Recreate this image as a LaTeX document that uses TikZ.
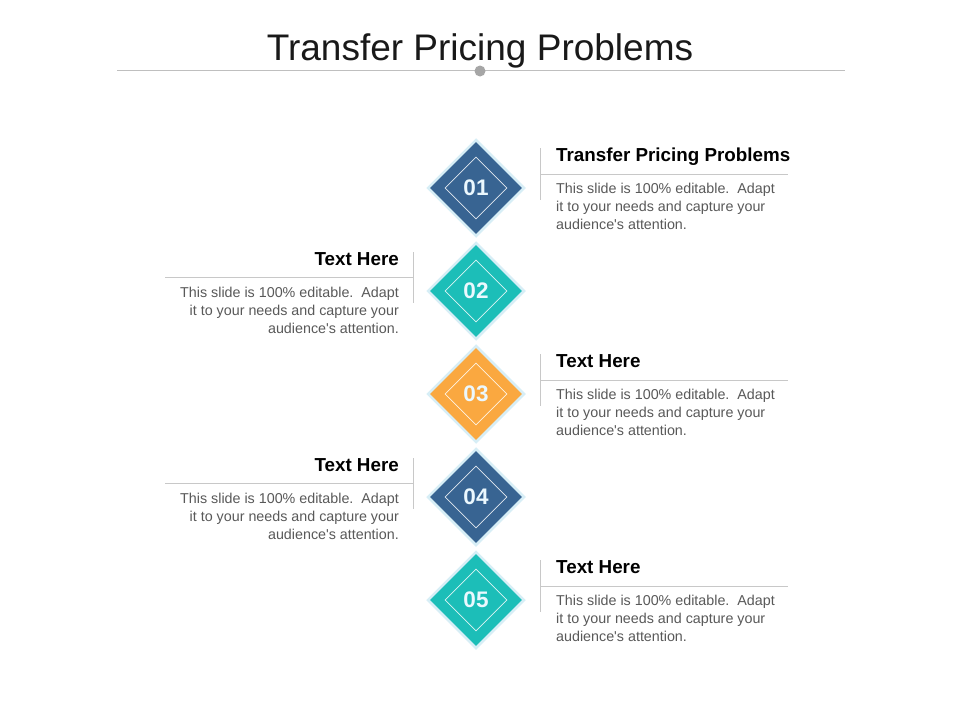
\documentclass[tikz,border=0pt]{standalone}
\usepackage{fontspec}
\setmainfont{Liberation Sans}
\usetikzlibrary{shapes.geometric}
\definecolor{cblue}{RGB}{56,100,146}
\definecolor{cteal}{RGB}{28,190,184}
\definecolor{corange}{RGB}{250,168,64}
\definecolor{glow}{RGB}{215,238,246}
\definecolor{rulegray}{RGB}{200,200,200}
\definecolor{bodygray}{RGB}{89,89,89}
\definecolor{titlegray}{RGB}{191,191,191}
\definecolor{dotgray}{RGB}{166,166,166}
\tikzset{
  outerdia/.style={diamond, aspect=1, inner sep=0pt, minimum width=97pt, minimum height=97pt, fill=#1, draw=glow, line width=2.5pt},
  innerdia/.style={diamond, aspect=1, inner sep=0pt, minimum width=62pt, minimum height=62pt, draw=white!85!#1, line width=0.7pt},
  numtext/.style={font=\fontsize{22.5}{26}\selectfont\bfseries, text=white!92!cyan, inner sep=0pt},
  headtext/.style={font=\fontsize{18.8}{22}\selectfont\bfseries, text=black, inner sep=0pt},
  bodytext/.style={font=\fontsize{14.3}{18}\selectfont, text=bodygray, inner sep=0pt},
  sepline/.style={draw=rulegray, line width=0.8pt}
}
\newcommand{\bodycopy}{This slide is 100\% editable.\ \ Adapt\\it to your needs and capture your\\audience\textquotesingle s attention.}
\begin{document}
\begin{tikzpicture}[x=1pt,y=-1pt]
\useasboundingbox (0,0) rectangle (960,720);
\fill[white] (0,0) rectangle (960,720);
% title
\node[font=\fontsize{37}{42}\selectfont, text=black!90, inner sep=0pt, anchor=base] (title) at (480,60) {Transfer Pricing Problems};
\coordinate (tl) at (117,70);
\coordinate (tr) at (845,70);
\draw[draw=titlegray, line width=0.8pt] (tl) -- (tr);
\fill[dotgray] (480,71) circle (5.5pt);
% diamonds
\foreach \i/\cy/\col in {1/188/cblue, 2/291/cteal, 3/394/corange, 4/497/cblue, 5/600/cteal} {
  \node[outerdia=\col] (d\i) at (476,\cy) {};
  \node[innerdia=\col] (i\i) at (476,\cy) {};
  \node[numtext] (n\i) at (476,\cy) {0\i};
}
% right blocks
\foreach \i/\cy/\head in {1/188/{Transfer Pricing Problems}, 3/394/{Text Here}, 5/600/{Text Here}} {
  \coordinate (va\i) at (540,\cy-40);
  \coordinate (vb\i) at (540,\cy+12);
  \coordinate (ha\i) at (540,\cy-14);
  \coordinate (hb\i) at (788,\cy-14);
  \draw[sepline] (va\i) -- (vb\i);
  \draw[sepline] (ha\i) -- (hb\i);
  \node[headtext, anchor=base west] (h\i) at (556,\cy-26.5) {\head};
  \node[bodytext, anchor=north west, align=left] (b\i) at (556,\cy-5.5) {\bodycopy};
}
% left blocks
\foreach \i/\cy in {2/291, 4/497} {
  \coordinate (va\i) at (413,\cy-39);
  \coordinate (vb\i) at (413,\cy+12);
  \coordinate (ha\i) at (165,\cy-14);
  \coordinate (hb\i) at (413,\cy-14);
  \draw[sepline] (va\i) -- (vb\i);
  \draw[sepline] (ha\i) -- (hb\i);
  \node[headtext, anchor=base east] (h\i) at (399,\cy-25.5) {Text Here};
  \node[bodytext, anchor=north east, align=right] (b\i) at (399,\cy-4.5) {\bodycopy};
}
\end{tikzpicture}
\end{document}
